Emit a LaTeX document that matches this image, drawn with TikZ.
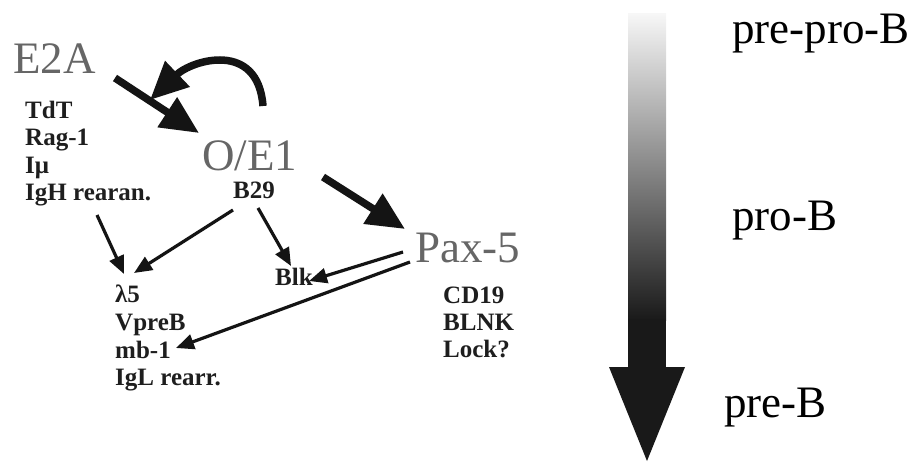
\documentclass[tikz,border=0pt]{standalone}
\usepackage{fontspec}
\setmainfont{Liberation Serif}
\usetikzlibrary{arrows.meta}
\definecolor{tfgray}{HTML}{666666}
\definecolor{lbl}{HTML}{1E1E1E}
\tikzset{
  tf/.style={anchor=base west, inner sep=0pt, text=tfgray, font=\fontsize{45}{50}\selectfont},
  gene/.style={anchor=base west, inner sep=0pt, text=lbl, font=\fontsize{25}{27}\selectfont\bfseries},
  stage/.style={anchor=base west, inner sep=0pt, text=black, font=\fontsize{45}{50}\selectfont},
  big/.style={line width=7.5pt, draw=black!92, -{Triangle[length=38pt,width=34pt]}},
  thin/.style={line width=3.2pt, draw=black!92, -{Triangle[length=18pt,width=15pt]}}
}
\begin{document}
\begin{tikzpicture}[x=1pt,y=-1pt]
\useasboundingbox (0,0) rectangle (918,461);
% gradient arrow
\shade[top color=black!3, bottom color=black!90, draw=none] (628,13) rectangle (666,320);
\fill[black!90] (628,319) rectangle (666,369);
\fill[black!90] (609,367) -- (685,367) -- (647,461) -- cycle;
\node[stage] (ppb) at (732,43) {pre-pro-B};
\node[stage] (pb) at (732,230) {pro-B};
\node[stage] (preb) at (724,417) {pre-B};
% factors
\node[tf] (e2a) at (13,73) {E2A};
\node[tf] (oe1) at (202,170) {O/E1};
\node[tf] (pax) at (415,262) {Pax-5};
% gene lists
\node[gene] (tdt) at (25,118) {TdT};
\node[gene] (rag) at (25,145) {Rag-1};
\node[gene] (imu) at (25,173) {Iμ};
\node[gene] (igh) at (25,200) {IgH rearan.};
\node[gene] (b29) at (233,198) {B29};
\node[gene] (cd19) at (443,303) {CD19};
\node[gene] (blnk) at (443,330) {BLNK};
\node[gene] (lock) at (443,357) {Lock?};
\node[gene] (l5) at (115,302) {λ5};
\node[gene] (vpreb) at (115,330) {VpreB};
\node[gene] (mb1) at (115,358) {mb-1};
\node[gene] (igl) at (115,385) {IgL rearr.};
\node[gene] (blk) at (275,285) {Blk};
% connector end points
\coordinate (e2aS) at (115,78);
\coordinate (oeT) at (199,133);
\coordinate (loopS) at (263,106);
\coordinate (loopT) at (150,100);
\coordinate (oeS) at (323,177);
\coordinate (paxT) at (405,229);
\coordinate (ighS) at (97,215);
\coordinate (l5T1) at (124,274);
\coordinate (b29S1) at (233,210);
\coordinate (l5T2) at (134,273);
\coordinate (b29S2) at (258,208);
\coordinate (blkT1) at (291,266);
\coordinate (paxS1) at (403,252);
\coordinate (blkT2) at (309,281);
\coordinate (paxS2) at (410,262);
\coordinate (mb1T) at (176,348);
% connectors
\draw[big] (e2aS) -- (oeT);
\draw[big] (loopS) .. controls (258,40) and (192,60) .. (loopT);
\draw[big] (oeS) -- (paxT);
\draw[thin] (ighS) -- (l5T1);
\draw[thin] (b29S1) -- (l5T2);
\draw[thin] (b29S2) -- (blkT1);
\draw[thin] (paxS1) -- (blkT2);
\draw[thin] (paxS2) -- (mb1T);
\end{tikzpicture}
\end{document}
